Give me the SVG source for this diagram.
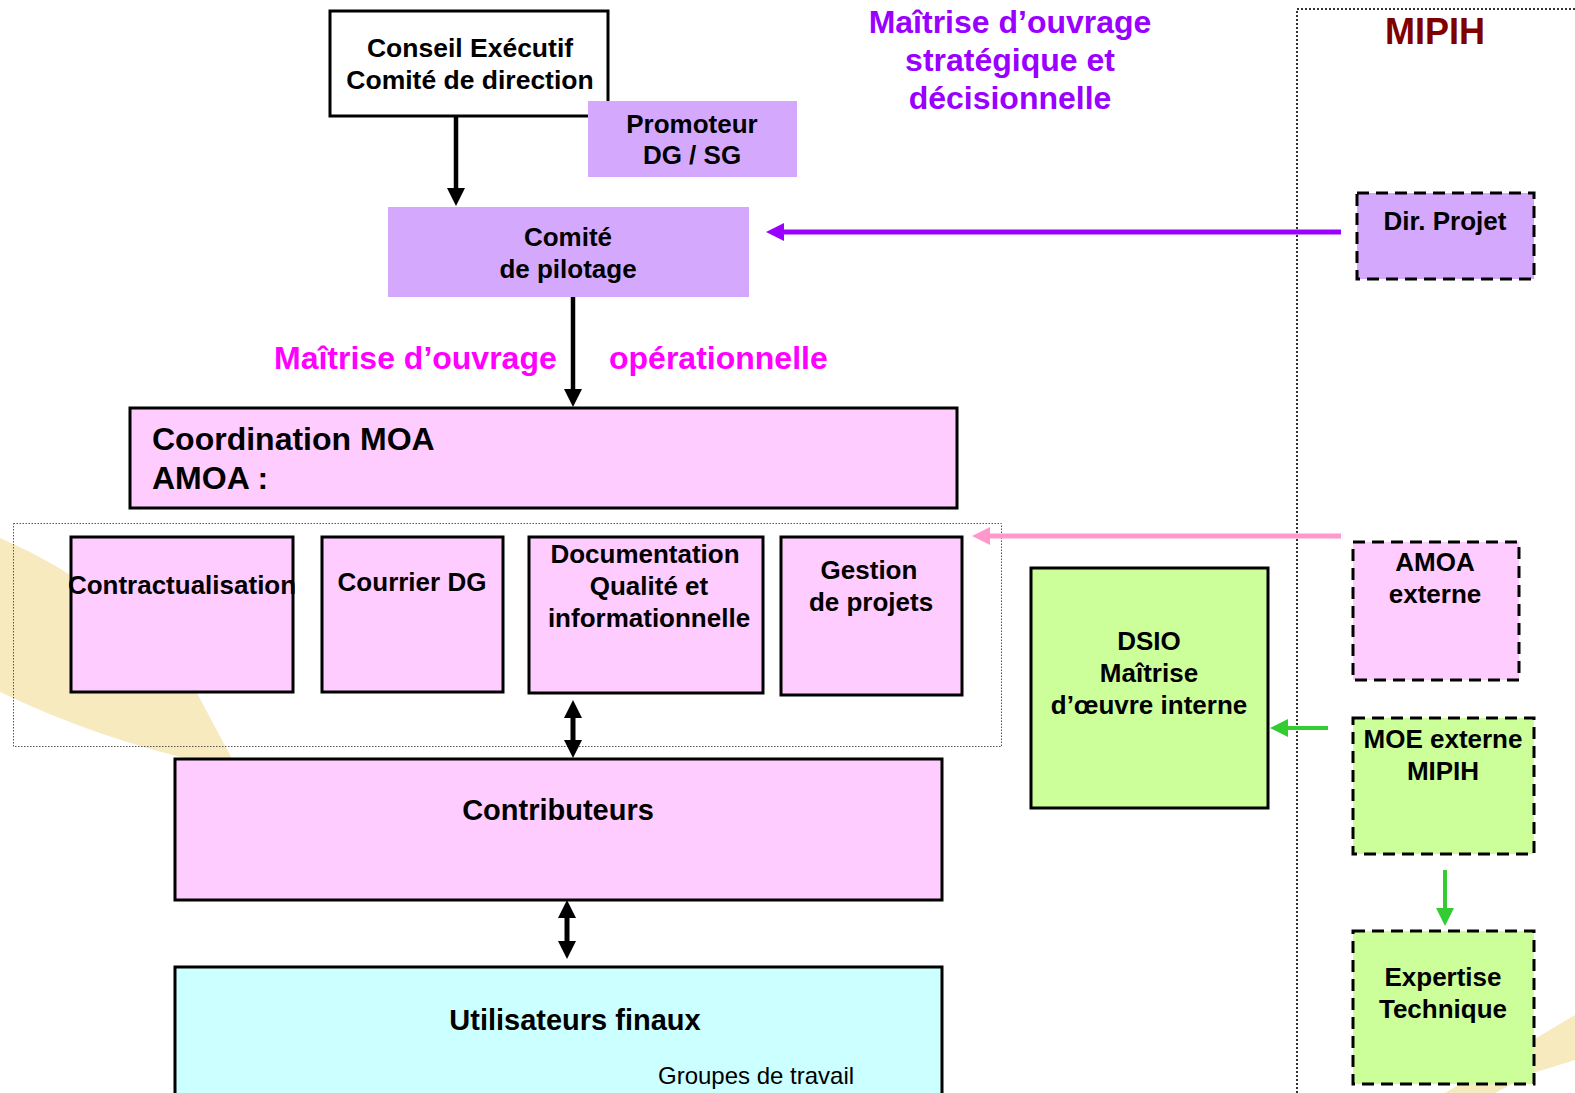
<svg xmlns="http://www.w3.org/2000/svg" width="1575" height="1093" viewBox="0 0 1575 1093">
<style>
text{font-family:"Liberation Sans",Arial,Helvetica,sans-serif;font-weight:bold;fill:#000;}
.c{text-anchor:middle;font-size:26px;}
.big{text-anchor:middle;font-size:29px;}
.box{stroke:#000;stroke-width:3;}
.dash{stroke:#000;stroke-width:3;stroke-dasharray:12,7;}
.lilac{fill:#D4A9FD;}
.pink{fill:#FFCCFF;}
.green{fill:#CCFF99;}
.cyan{fill:#CCFFFF;}
.blk{stroke:#000;fill:none;}
</style>
<defs>
<marker id="ab" markerUnits="userSpaceOnUse" markerWidth="18" markerHeight="18" refX="8" refY="9" orient="auto-start-reverse"><path d="M0,0 L18,9 L0,18 Z" fill="#000"/></marker>
<marker id="ap" markerUnits="userSpaceOnUse" markerWidth="18" markerHeight="18" refX="8" refY="9" orient="auto"><path d="M0,0 L18,9 L0,18 Z" fill="#9900FF"/></marker>
<marker id="ak" markerUnits="userSpaceOnUse" markerWidth="18" markerHeight="18" refX="8" refY="9" orient="auto"><path d="M0,0 L18,9 L0,18 Z" fill="#FF99CC"/></marker>
<marker id="ag" markerUnits="userSpaceOnUse" markerWidth="18" markerHeight="18" refX="8" refY="9" orient="auto"><path d="M0,0 L18,9 L0,18 Z" fill="#33CC33"/></marker>
</defs>
<rect width="1575" height="1093" fill="#FFFFFF"/>
<g id="background">
<path d="M0,538 Q110,585 190,680 L238,770 Q110,745 0,692 Z" fill="#F7EABF"/>
<path d="M1575,1015 L1533,1040 L1445,1093 L1495,1093 L1533,1073 L1575,1060 Z" fill="#F7EABF"/>
</g>
<g id="frames">
<rect x="13.5" y="523.5" width="988" height="223" fill="none" stroke="#555" stroke-width="1" stroke-dasharray="1.5,1.5"/>
<path d="M1297,1093 V9 H1575" fill="none" stroke="#333" stroke-width="2" stroke-dasharray="2,2"/>
</g>
<g id="labels">
<text x="1010" y="33" text-anchor="middle" font-size="32" style="fill:#9900FF">Maîtrise d’ouvrage</text>
<text x="1010" y="71" text-anchor="middle" font-size="32" style="fill:#9900FF">stratégique et</text>
<text x="1010" y="109" text-anchor="middle" font-size="32" style="fill:#9900FF">décisionnelle</text>
<text x="274" y="369" font-size="32" style="fill:#FF00FF">Maîtrise d’ouvrage</text>
<text x="609" y="369" font-size="32" style="fill:#FF00FF">opérationnelle</text>
<text x="1435" y="44" text-anchor="middle" font-size="36" style="fill:#800000">MIPIH</text>
</g>
<g id="connectors">
<line class="blk" x1="456" y1="117" x2="456" y2="196" stroke-width="4.5" marker-end="url(#ab)"/>
<line class="blk" x1="573" y1="297" x2="573" y2="397" stroke-width="4.5" marker-end="url(#ab)"/>
<line class="blk" x1="573" y1="710" x2="573" y2="748" stroke-width="5" marker-start="url(#ab)" marker-end="url(#ab)"/>
<line class="blk" x1="567" y1="910" x2="567" y2="949" stroke-width="5" marker-start="url(#ab)" marker-end="url(#ab)"/>
<line x1="1341" y1="232" x2="776" y2="232" stroke="#9900FF" stroke-width="5" marker-end="url(#ap)"/>
<line x1="1341" y1="536" x2="982" y2="536" stroke="#FF99CC" stroke-width="5" marker-end="url(#ak)"/>
<line x1="1328" y1="728" x2="1280" y2="728" stroke="#33CC33" stroke-width="4" marker-end="url(#ag)"/>
<line x1="1445" y1="870" x2="1445" y2="916" stroke="#33CC33" stroke-width="4" marker-end="url(#ag)"/>
</g>
<g id="conseil">
<rect class="box" x="330" y="11" width="278" height="105" fill="#FFFFFF"/>
<text class="c" x="470" y="57" font-size="26.5" style="font-size:26.5px">Conseil Exécutif</text>
<text class="c" x="470" y="89" style="font-size:26.5px">Comité de direction</text>
</g>
<g id="promoteur">
<rect class="lilac" x="588" y="101" width="209" height="76"/>
<text class="c" x="692" y="133">Promoteur</text>
<text class="c" x="692" y="164">DG / SG</text>
</g>
<g id="comite">
<rect class="lilac" x="388" y="207" width="361" height="90"/>
<text class="c" x="568" y="246">Comité</text>
<text class="c" x="568" y="278">de pilotage</text>
</g>
<g id="coordination">
<rect class="box pink" x="130" y="408" width="827" height="100" stroke-width="3.5"/>
<text x="152" y="450" font-size="32">Coordination MOA</text>
<text x="152" y="489" font-size="32">AMOA :</text>
</g>
<g id="contractualisation">
<rect class="box pink" x="71" y="537" width="222" height="155"/>
<text class="c" x="182" y="594">Contractualisation</text>
</g>
<g id="courrier">
<rect class="box pink" x="322" y="537" width="181" height="155"/>
<text class="c" x="412" y="591">Courrier DG</text>
</g>
<g id="documentation">
<rect class="box pink" x="529" y="537" width="234" height="156"/>
<text class="c" x="645" y="563">Documentation</text>
<text class="c" x="649" y="595">Qualité et</text>
<text class="c" x="649" y="627">informationnelle</text>
</g>
<g id="gestion">
<rect class="box pink" x="781" y="537" width="181" height="158"/>
<text class="c" x="869" y="579">Gestion</text>
<text class="c" x="871" y="611">de projets</text>
</g>
<g id="contributeurs">
<rect class="box pink" x="175" y="759" width="767" height="141"/>
<text class="big" x="558" y="820">Contributeurs</text>
</g>
<g id="utilisateurs">
<rect class="box cyan" x="175" y="967" width="767" height="140"/>
<text class="big" x="575" y="1030">Utilisateurs finaux</text>
<text x="658" y="1084" font-size="24" style="font-weight:normal">Groupes de travail</text>
</g>
<g id="dsio">
<rect class="box green" x="1031" y="568" width="237" height="240"/>
<text class="c" x="1149" y="650">DSIO</text>
<text class="c" x="1149" y="682">Maîtrise</text>
<text class="c" x="1149" y="714">d’œuvre interne</text>
</g>
<g id="dirprojet">
<rect class="dash lilac" x="1357" y="193" width="177" height="86"/>
<text class="c" x="1445" y="230">Dir. Projet</text>
</g>
<g id="amoa-externe">
<rect class="dash pink" x="1353" y="542" width="166" height="138"/>
<text class="c" x="1435" y="571">AMOA</text>
<text class="c" x="1435" y="603">externe</text>
</g>
<g id="moe-externe">
<rect class="dash green" x="1353" y="718" width="181" height="136"/>
<text class="c" x="1443" y="748">MOE externe</text>
<text class="c" x="1443" y="780">MIPIH</text>
</g>
<g id="expertise">
<rect class="dash green" x="1353" y="931" width="181" height="153"/>
<text class="c" x="1443" y="986">Expertise</text>
<text class="c" x="1443" y="1018">Technique</text>
</g>
</svg>
